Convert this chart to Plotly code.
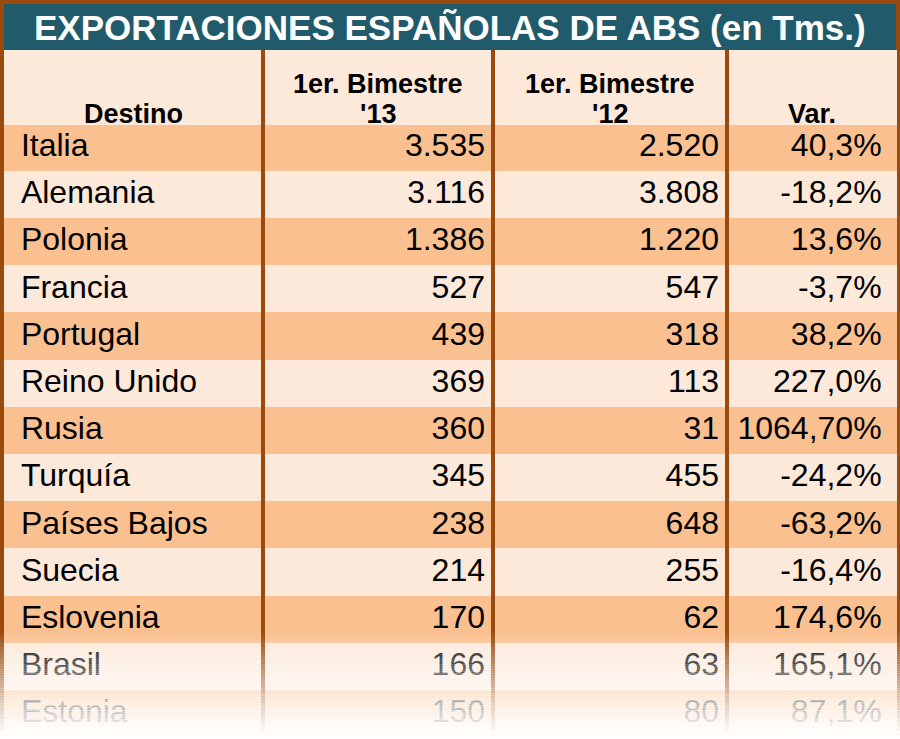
import plotly.graph_objects as go

# --- datos (Tms.)
titulo = "EXPORTACIONES ESPAÑOLAS DE ABS (en Tms.)"
cabeceras = ["Destino", "1er. Bimestre<br>'13", "1er. Bimestre<br>'12", "Var."]
destinos = ["Italia", "Alemania", "Polonia", "Francia", "Portugal", "Reino Unido",
            "Rusia", "Turquía", "Países Bajos", "Suecia", "Eslovenia", "Brasil", "Estonia"]
bim_13 = [3535, 3116, 1386, 527, 439, 369, 360, 345, 238, 214, 170, 166, 150]
bim_12 = [2520, 3808, 1220, 547, 318, 113, 31, 455, 648, 255, 62, 63, 80]
variacion = ["40,3%", "-18,2%", "13,6%", "-3,7%", "38,2%", "227,0%", "1064,70%",
             "-24,2%", "-63,2%", "-16,4%", "174,6%", "165,1%", "87,1%"]


def miles(v):
    # separador de miles a la española
    return f"{v:,}".replace(",", ".")


# --- estilos
W, H = 900, 739
MARRON = "#9a4a0c"
TEAL = "#215a6b"
NARANJA = "#fac090"
CLARO = "#fde9d9"
FUENTE = "Liberation Sans, Arial, sans-serif"

anchos = [259, 230, 234, 169]   # px, de 4 a 896
x_ini, y_tabla = 4, 50


def fx(x):
    return x / W


def fy(y):
    return 1 - y / H


colores_fila = [NARANJA if i % 2 == 0 else CLARO for i in range(len(destinos))]
relleno = [colores_fila] * len(anchos)

fig = go.Figure(go.Table(
    domain=dict(x=[fx(x_ini), fx(x_ini + sum(anchos))], y=[0, fy(y_tabla)]),
    columnwidth=anchos,
    header=dict(
        values=[""] * len(anchos),   # el texto va en anotaciones (interlineado)
        height=74,
        fill=dict(color=CLARO),
        line=dict(color=CLARO, width=1),
    ),
    cells=dict(
        values=[["\u00a0" + d for d in destinos],
                [miles(v) for v in bim_13],
                [miles(v) for v in bim_12],
                [v + "\u2009" for v in variacion]],
        align=["left", "right", "right", "right"],
        height=47.2,
        fill=dict(color=relleno),
        line=dict(color=relleno, width=1),
        font=dict(family=FUENTE, size=32, color="black"),
    ),
))

shapes = [
    # barra del título
    dict(type="rect", xref="paper", yref="paper",
         x0=fx(x_ini), x1=fx(W - 4), y0=fy(y_tabla), y1=fy(4),
         fillcolor=TEAL, line=dict(width=0)),
]

# separadores verticales entre columnas
x = x_ini
for w in anchos[:-1]:
    x += w
    shapes.append(dict(type="line", xref="paper", yref="paper",
                       x0=fx(x), x1=fx(x), y0=0, y1=fy(y_tabla),
                       line=dict(color=MARRON, width=4)))

# difuminado inferior hacia blanco
f0, f1, n = 630, 735, 45
paso = (H - f0) / n
for k in range(n):
    ya = f0 + k * paso
    t = min(1.0, max(0.0, (ya + paso / 2 - f0) / (f1 - f0)))
    shapes.append(dict(type="rect", xref="paper", yref="paper",
                       x0=0, x1=1, y0=fy(ya + paso + 0.5), y1=fy(ya),
                       fillcolor="white", opacity=t, line=dict(width=0)))

annotations = [dict(
    text=f"<b>{titulo}</b>", xref="paper", yref="paper",
    x=0.5, y=fy(27.5), xanchor="center", yanchor="middle",
    showarrow=False, font=dict(family=FUENTE, size=35, color="white"),
)]

# cabeceras: última línea alineada abajo, la anterior encima
lineas_y = [84, 114]
x = x_ini
for w, cab in zip(anchos, cabeceras):
    lineas = cab.split("<br>")
    for j, linea in enumerate(reversed(lineas)):
        annotations.append(dict(
            text=f"<b>{linea}</b>", xref="paper", yref="paper",
            x=fx(x + w / 2), y=fy(lineas_y[-1 - j]),
            xanchor="center", yanchor="middle", showarrow=False,
            font=dict(family=FUENTE, size=27, color="black"),
        ))
    x += w

fig.update_layout(
    width=W, height=H,
    margin=dict(l=0, r=0, t=0, b=0),
    paper_bgcolor=MARRON,
    shapes=shapes,
    annotations=annotations,
)

fig.write_html("out.html", config={"displayModeBar": False},
               post_script="document.body.style.margin='0px';")
